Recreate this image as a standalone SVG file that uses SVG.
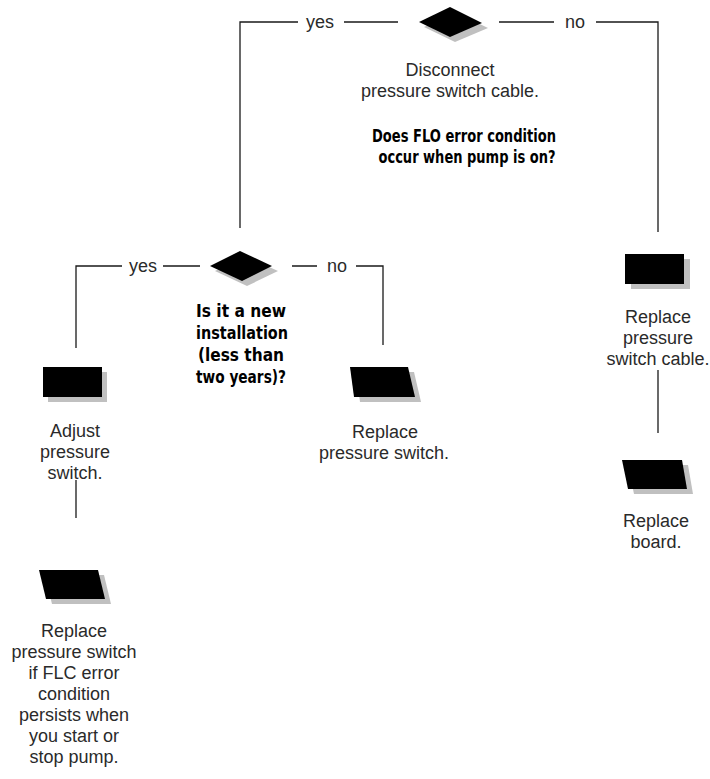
<svg xmlns="http://www.w3.org/2000/svg" width="710" height="779" viewBox="0 0 710 779">
<defs>
<style>
.ln{stroke:#1a1a1a;stroke-width:1.3;fill:none}
.sh{fill:#c0c0c0}
.bk{fill:#000}
.t{font-family:"Liberation Sans",Arial,sans-serif;font-size:18px;fill:#2a2a2a;text-anchor:middle}
.b{font-family:"Liberation Sans Narrow","DejaVu Sans Condensed","Liberation Sans",sans-serif;font-weight:bold;font-size:18.5px;fill:#000;text-anchor:middle}
</style>
</defs>
<rect width="710" height="779" fill="#fff"/>
<g id="connectors">
<path class="ln" d="M240,228V22H298M344,22H398M499,22H554M596,22H658V232"/>
<path class="ln" d="M76,348V266H122M163,266H200M292,266H317M356,266H383V345"/>
<path class="ln" d="M76,480V518"/>
<path class="ln" d="M658,370V433"/>
<text class="t" x="320" y="28">yes</text>
<text class="t" x="575" y="28">no</text>
<text class="t" x="143" y="272">yes</text>
<text class="t" x="337" y="272">no</text>
</g>
<g id="d1">
<polygon class="sh" points="424,27 455,12 488,28 455,42"/>
<polygon class="bk" points="419,22 450,7 482,23 450,37"/>
<text class="t" x="450" y="76">Disconnect</text>
<text class="t" x="450" y="97">pressure switch cable.</text>
<text class="b" x="464" y="142" textLength="184" lengthAdjust="spacingAndGlyphs">Does FLO error condition</text>
<text class="b" x="467" y="163" textLength="177" lengthAdjust="spacingAndGlyphs">occur when pump is on?</text>
</g>
<g id="d2">
<polygon class="sh" points="215,271 245,256 278,271 247,286"/>
<polygon class="bk" points="210,266 240,251 272,266 242,281"/>
<text class="b" x="241" y="317" textLength="90" lengthAdjust="spacingAndGlyphs">Is it a new</text>
<text class="b" x="242" y="339" textLength="92" lengthAdjust="spacingAndGlyphs">installation</text>
<text class="b" x="241" y="361" textLength="86" lengthAdjust="spacingAndGlyphs">(less than</text>
<text class="b" x="241" y="383" textLength="90" lengthAdjust="spacingAndGlyphs">two years)?</text>
</g>
<g id="adjust">
<rect class="sh" x="48" y="372" width="59" height="30"/>
<rect class="bk" x="43" y="367" width="59" height="30"/>
<text class="t" x="75" y="437">Adjust</text>
<text class="t" x="75" y="458">pressure</text>
<text class="t" x="75" y="479">switch.</text>
</g>
<g id="replace-switch">
<polygon class="sh" points="356,372 414,372 421,402 360,402"/>
<polygon class="bk" points="350,367 408,367 415,397 354,397"/>
<text class="t" x="385" y="438">Replace</text>
<text class="t" x="384" y="459">pressure switch.</text>
</g>
<g id="replace-cable">
<rect class="sh" x="631" y="259" width="59" height="30"/>
<rect class="bk" x="625" y="254" width="59" height="30"/>
<text class="t" x="658" y="323">Replace</text>
<text class="t" x="658" y="344">pressure</text>
<text class="t" x="658" y="365">switch cable.</text>
</g>
<g id="replace-board">
<polygon class="sh" points="628,465 688,465 693,494 634,494"/>
<polygon class="bk" points="622,460 682,460 687,489 628,489"/>
<text class="t" x="656" y="527">Replace</text>
<text class="t" x="656" y="548">board.</text>
</g>
<g id="replace-final">
<polygon class="sh" points="45,575 104,575 111,604 52,604"/>
<polygon class="bk" points="39,570 98,570 105,599 46,599"/>
<text class="t" x="74" y="637">Replace</text>
<text class="t" x="74" y="658">pressure switch</text>
<text class="t" x="74" y="679">if FLC error</text>
<text class="t" x="74" y="700">condition</text>
<text class="t" x="74" y="721">persists when</text>
<text class="t" x="74" y="742">you start or</text>
<text class="t" x="74" y="763">stop pump.</text>
</g>
</svg>
